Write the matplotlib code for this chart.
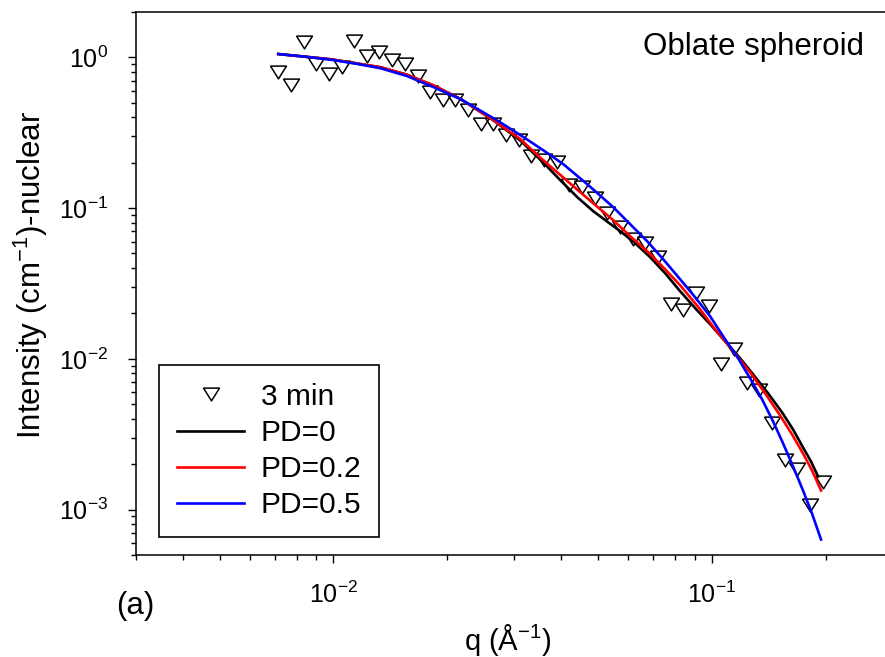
import matplotlib
matplotlib.use('Agg')
import matplotlib.pyplot as plt
from matplotlib.ticker import LogLocator, NullFormatter

# Fuente tipo Arial para todo el grafico
plt.rcParams['font.family'] = ['Liberation Sans', 'DejaVu Sans']
plt.rcParams['mathtext.fontset'] = 'custom'
plt.rcParams['mathtext.rm'] = 'Liberation Sans'
plt.rcParams['mathtext.it'] = 'Liberation Sans:italic'
plt.rcParams['mathtext.bf'] = 'Liberation Sans:bold'
plt.rcParams['axes.unicode_minus'] = False

# Datos medidos (3 min)
q_data = [0.007145, 0.007718, 0.008338, 0.009004, 0.009723, 0.01050, 0.01134, 0.01225,
          0.01323, 0.01429, 0.01544, 0.01668, 0.01801, 0.01945, 0.02101, 0.02269,
          0.02451, 0.02647, 0.02860, 0.03088, 0.03336, 0.03603, 0.03891, 0.04203,
          0.04539, 0.04903, 0.05297, 0.05720, 0.06179, 0.06673, 0.07208, 0.07786,
          0.08408, 0.09082, 0.09808, 0.1060, 0.1145, 0.1236, 0.1335, 0.1442,
          0.1558, 0.1682, 0.1817, 0.1963]
i_data = [0.802, 0.655, 1.258, 0.899, 0.771, 0.866, 1.289, 1.02,
          1.079, 0.960, 0.899, 0.751, 0.591, 0.520, 0.520, 0.447,
          0.361, 0.361, 0.305, 0.282, 0.221, 0.210, 0.203, 0.142,
          0.138, 0.116, 0.0921, 0.0750, 0.0622, 0.0587, 0.0474, 0.0230,
          0.0210, 0.0273, 0.0223, 0.00929, 0.01156, 0.00690, 0.00618, 0.00375,
          0.00212, 0.00185, 0.00108, 0.00152]

# Ajustes con esferoide oblato
q_pd0 = [0.007145, 0.008434, 0.009819, 0.011432, 0.013309, 0.01559, 0.018365, 0.021646,
         0.026456, 0.031181, 0.035854, 0.039758, 0.044097, 0.048601, 0.052277, 0.057272,
         0.062733, 0.068717, 0.075281, 0.082466, 0.091439, 0.099575, 0.10842, 0.1188,
         0.12856, 0.14084, 0.15335, 0.16392, 0.17418, 0.18286, 0.19087]
i_pd0 = [1.0517, 1.0092, 0.9714, 0.9138, 0.8597, 0.7687, 0.6517, 0.5302,
         0.3824, 0.2803, 0.2004, 0.1532, 0.1181, 0.09537, 0.08313, 0.07024,
         0.05847, 0.04721, 0.03696, 0.02806, 0.02099, 0.01669, 0.01307, 0.01008,
         0.007888, 0.005903, 0.004413, 0.003402, 0.002585, 0.002086, 0.001659]

q_pd02 = [0.007145, 0.008434, 0.009819, 0.011432, 0.013309, 0.01559, 0.018365, 0.021646,
          0.026456, 0.031181, 0.035206, 0.040244, 0.044908, 0.049796, 0.054882, 0.060853,
          0.067477, 0.074372, 0.082466, 0.093124, 0.10018, 0.10842, 0.11665, 0.12624,
          0.13829, 0.1515, 0.16293, 0.17418, 0.18397, 0.19438]
i_pd02 = [1.0517, 1.0092, 0.9714, 0.9138, 0.8597, 0.7687, 0.6517, 0.5302,
          0.3824, 0.2867, 0.2162, 0.1616, 0.1275, 0.1021, 0.08313, 0.06506,
          0.05174, 0.04051, 0.03076, 0.02132, 0.01669, 0.01307, 0.01039, 0.008136,
          0.005903, 0.004215, 0.003152, 0.002358, 0.001818, 0.001339]

q_pd05 = [0.007145, 0.008434, 0.009819, 0.011432, 0.013309, 0.01559, 0.018365, 0.021646,
          0.024448, 0.027107, 0.02988, 0.03313, 0.036293, 0.040489, 0.047148, 0.050712,
          0.054882, 0.060853, 0.067477, 0.074372, 0.082466, 0.090335, 0.098971, 0.10842,
          0.11736, 0.12624, 0.1358, 0.14518, 0.15429, 0.16392, 0.17418, 0.18397, 0.19438]
i_pd05 = [1.0517, 1.0092, 0.9654, 0.9082, 0.8466, 0.7536, 0.6349, 0.5286,
          0.4432, 0.3806, 0.3266, 0.2760, 0.2368, 0.1956, 0.1420, 0.1209,
          0.1014, 0.07814, 0.06029, 0.04578, 0.03371, 0.02561, 0.01915, 0.01348,
          0.01008, 0.007423, 0.005383, 0.003845, 0.002748, 0.001932, 0.001339, 0.000942, 0.000633]

fig = plt.figure(figsize=(8.85, 6.57), dpi=100)
ax = fig.add_axes([0.1533, 0.1553, 0.855, 0.8265])

# Triangulo invertido un poco mas ancho que alto
tri_down = [(-1, 0.8), (1, 0.8), (0, -0.8), (-1, 0.8)]

# Puntos experimentales y curvas
ax.plot(q_data, i_data, linestyle='none', marker=tri_down, markersize=11.5,
        markerfacecolor='none', markeredgecolor='black', markeredgewidth=1.1,
        label='3 min', zorder=2)
ax.plot(q_pd0, i_pd0, color='black', lw=1.9, label='PD=0', zorder=3)
ax.plot(q_pd02, i_pd02, color='red', lw=1.9, label='PD=0.2', zorder=3)
ax.plot(q_pd05, i_pd05, color='blue', lw=1.9, label='PD=0.5', zorder=3)

# Ejes logaritmicos
ax.set_xscale('log')
ax.set_yscale('log')
ax.set_xlim(0.003, 0.3)
ax.set_ylim(5e-4, 2)
ax.yaxis.set_major_locator(LogLocator(base=10, numticks=10))
ax.yaxis.set_minor_locator(LogLocator(base=10, subs=range(2, 10), numticks=20))
ax.xaxis.set_minor_formatter(NullFormatter())
ax.yaxis.set_minor_formatter(NullFormatter())

ax.spines['right'].set_visible(False)
for s in ['left', 'bottom', 'top']:
    ax.spines[s].set_linewidth(1.1)

ax.tick_params(which='major', direction='out', length=6, width=1.0, labelsize=18)
ax.tick_params(which='minor', direction='out', length=3.5, width=1.0)
ax.tick_params(axis='x', which='major', pad=13)
ax.tick_params(axis='y', which='major', pad=14)

# Etiquetas de los ejes
ax.set_xlabel(r'q ($\mathregular{\AA^{-1}}$)', fontsize=21)
ax.xaxis.set_label_coords(0.492, -0.123)
ax.set_ylabel(r'Intensity (cm$\mathregular{^{-1}}$)-nuclear', fontsize=22.5)
ax.yaxis.set_label_coords(-0.113, 0.516)

# Textos extra
fig.text(643 / 885, 1 - 55 / 657, 'Oblate spheroid', fontsize=22.5, ha='left', va='baseline')
fig.text(135 / 885, 1 - 606 / 657, '(a)', fontsize=22.5, ha='center', va='center')

# Leyenda
leg = ax.legend(loc='upper left', bbox_to_anchor=(159 / 885, 1 - 365 / 657),
                bbox_transform=fig.transFigure, fontsize=21.5, numpoints=1,
                handlelength=2.25, handletextpad=0.55, labelspacing=0.27,
                borderpad=0.6, borderaxespad=0, fancybox=False, framealpha=1)
leg.get_frame().set_edgecolor('black')
leg.get_frame().set_linewidth(1.2)

fig.savefig('out.png', dpi=100)
